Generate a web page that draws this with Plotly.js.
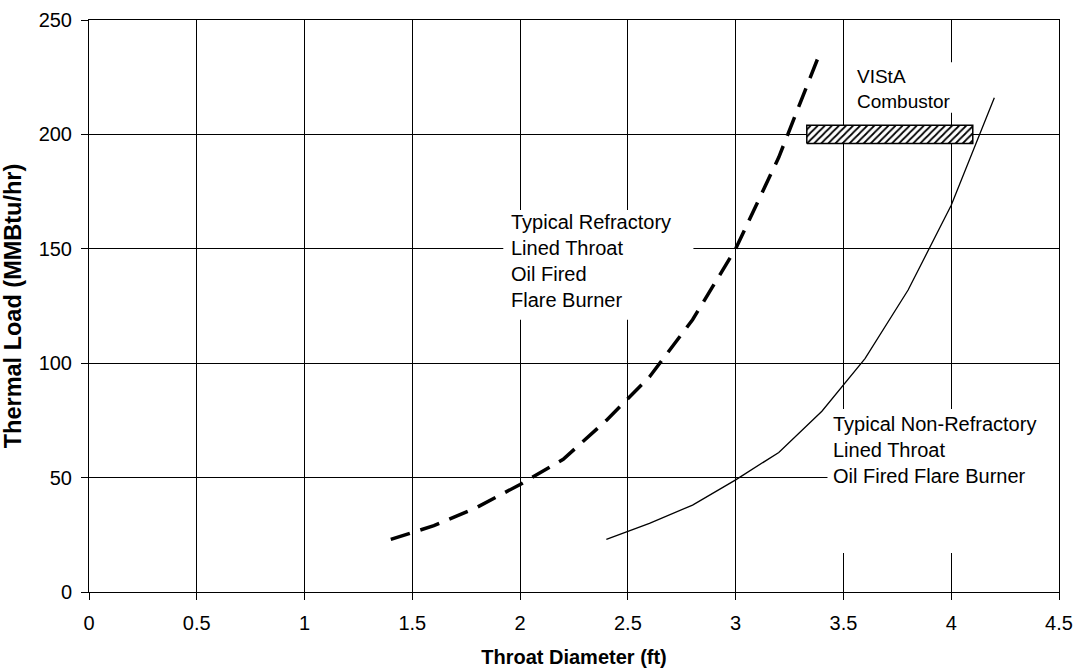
<!DOCTYPE html>
<html>
<head>
<meta charset="utf-8">
<script src="https://cdn.plot.ly/plotly-3.0.1.min.js"></script>
<style>html,body{margin:0;padding:0;background:#fff;}#chart{width:1076px;height:669px;}</style>
</head>
<body>
<div id="chart"></div>
<script>
// Typical refractory lined throat oil fired flare burner (dashed)
const refractoryDiameter = [1.4, 1.6, 1.8, 2.0, 2.2, 2.4, 2.6, 2.8, 3.0, 3.2, 3.38];
const refractoryLoad     = [23, 29, 37, 47, 58, 75, 94, 119, 150, 190, 233];

// Typical non-refractory lined throat oil fired flare burner (solid)
const nonRefractoryDiameter = [2.4, 2.6, 2.8, 3.0, 3.2, 3.4, 3.6, 3.8, 4.0, 4.2];
const nonRefractoryLoad     = [23, 30, 38, 49, 61, 79, 102, 132, 169, 216];

// VIStA combustor operating band
const vistaDiameterRange = [3.33, 4.1];
const vistaLoadRange     = [196, 204];

const xTickValues = [0, 0.5, 1, 1.5, 2, 2.5, 3, 3.5, 4, 4.5];
const xTickLabels = ["0", "0.5", "1", "1.5", "2", "2.5", "3", "3.5", "4", "4.5"];
const yTickValues = [0, 50, 100, 150, 200, 250];
const yTickLabels = ["0", "50", "100", "150", "200", "250"];

const labelRefractory = "Typical Refractory<br>Lined Throat<br>Oil Fired<br>Flare Burner";
const labelNonRefractory = "Typical Non-Refractory<br>Lined Throat<br>Oil Fired Flare Burner";
const labelVista = "VIStA<br>Combustor";

const FONT = "Liberation Sans, Arial, Helvetica, sans-serif";

const boxX = [vistaDiameterRange[0], vistaDiameterRange[1], vistaDiameterRange[1], vistaDiameterRange[0], vistaDiameterRange[0]];
const boxY = [vistaLoadRange[0], vistaLoadRange[0], vistaLoadRange[1], vistaLoadRange[1], vistaLoadRange[0]];

const traces = [
  {
    x: refractoryDiameter, y: refractoryLoad, type: "scatter", mode: "lines",
    line: {color: "#000", width: 3.5, dash: "20px,11px"},
    name: "Refractory", hoverinfo: "x+y"
  },
  {
    x: nonRefractoryDiameter, y: nonRefractoryLoad, type: "scatter", mode: "lines",
    line: {color: "#000", width: 1.3},
    name: "Non-Refractory", hoverinfo: "x+y"
  },
  {
    x: boxX, y: boxY, type: "scatter", mode: "lines", fill: "toself",
    fillcolor: "#fff",
    fillpattern: {shape: "/", fgcolor: "#000", bgcolor: "#fff", size: 5, solidity: 0.35},
    line: {color: "#000", width: 1.5},
    name: "VIStA Combustor", hoverinfo: "skip"
  }
];

const axisCommon = {
  showgrid: true, gridcolor: "#000", gridwidth: 1,
  showline: true, mirror: true, linecolor: "#000", linewidth: 1,
  zeroline: false, ticks: "outside", ticklen: 7, tickcolor: "#000", tickwidth: 1,
  tickfont: {family: FONT, size: 20, color: "#000"},
  fixedrange: true
};

const layout = {
  width: 1076, height: 669,
  margin: {l: 89, r: 17, t: 20, b: 77},
  paper_bgcolor: "#fff", plot_bgcolor: "#fff",
  showlegend: false,
  font: {family: FONT, color: "#000"},
  xaxis: Object.assign({}, axisCommon, {
    range: [0, 4.5], tickmode: "array", tickvals: xTickValues, ticktext: xTickLabels,
    ticklabelstandoff: 6,
    title: {text: "<b>Throat Diameter (ft)</b>", font: {family: FONT, size: 20, color: "#000"}, standoff: 16}
  }),
  yaxis: Object.assign({}, axisCommon, {
    range: [0, 250], tickmode: "array", tickvals: yTickValues, ticktext: yTickLabels,
    ticklabelstandoff: 5,
    title: {text: "<b>Thermal Load (MMBtu/hr)</b>", font: {family: FONT, size: 23.5, color: "#000"}, standoff: 13}
  }),
  shapes: [
    {type: "rect", xref: "x", yref: "y", x0: 1.922, x1: 2.804, y0: 119, y1: 167, fillcolor: "#fff", line: {width: 0}, layer: "between"},
    {type: "rect", xref: "x", yref: "y", x0: 3.426, x1: 4.5, y0: 17, y1: 80, fillcolor: "#fff", line: {width: 0}, layer: "between"},
    {type: "rect", xref: "x", yref: "y", x0: 3.53, x1: 4.23, y0: 209.5, y1: 231.5, fillcolor: "#fff", line: {width: 0}, layer: "between"}
  ],
  annotations: [
    {x: 1.95, y: 144.5, xref: "x", yref: "y", xanchor: "left", yanchor: "middle", align: "left",
     text: labelRefractory, showarrow: false, font: {family: FONT, size: 20, color: "#000"}},
    {x: 3.44, y: 62, xref: "x", yref: "y", xanchor: "left", yanchor: "middle", align: "left",
     text: labelNonRefractory, showarrow: false, font: {family: FONT, size: 20, color: "#000"}},
    {x: 3.555, y: 220, xref: "x", yref: "y", xanchor: "left", yanchor: "middle", align: "left",
     text: labelVista, showarrow: false, font: {family: FONT, size: 19, color: "#000"}}
  ]
};

Plotly.newPlot("chart", traces, layout, {displayModeBar: false, staticPlot: true});
</script>
</body>
</html>
